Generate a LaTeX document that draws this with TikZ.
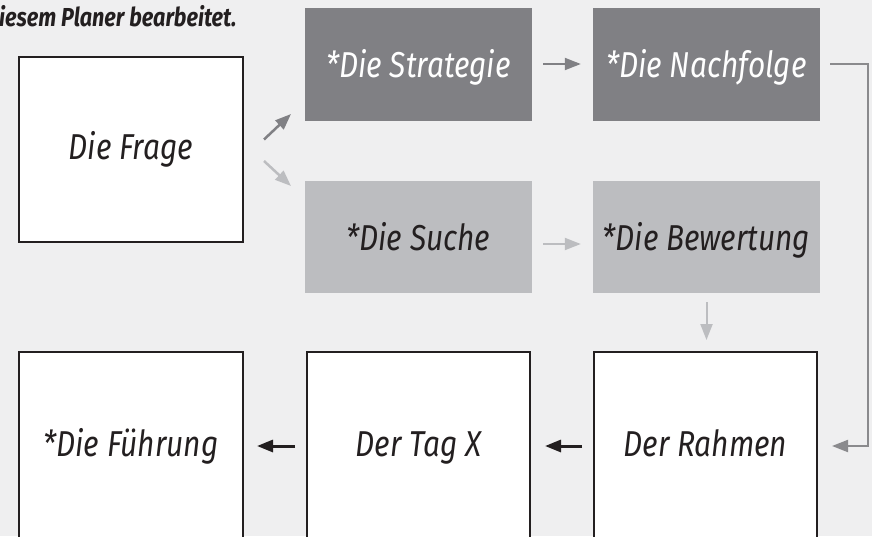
\documentclass[tikz,border=0pt]{standalone}
\usepackage{fontspec}
\newfontfamily\hand[FakeStretch=0.83]{Fira Sans}
\usetikzlibrary{arrows.meta,calc}
\definecolor{bg}{HTML}{EFEFF0}
\definecolor{dgray}{HTML}{808084}
\definecolor{lgray}{HTML}{BCBDC0}
\definecolor{mgray}{HTML}{8A8A8D}
\definecolor{ink}{HTML}{231F20}
\begin{document}
\begin{tikzpicture}[x=1pt,y=-1pt,
  box/.style={inner sep=0pt, font=\hand\itshape\fontsize{36}{40}\selectfont},
  wbox/.style={box, draw=ink, line width=2pt, fill=white, text=ink, text height=26pt, text depth=6pt},
  dbox/.style={box, fill=dgray, text=white, minimum width=227pt, minimum height=113pt, text height=32pt, text depth=6pt},
  lbox/.style={box, fill=lgray, text=ink, minimum width=227pt, minimum height=112.5pt, text height=32pt, text depth=6pt},
  arr/.style={-{Triangle[length=16pt,width=12pt]}, line width=2pt}
]
\fill[bg] (0,0) rectangle (872,536);
\useasboundingbox (0,0) rectangle (872,536);

\node[anchor=base west, inner sep=0pt, text=ink,
      font=\hand\bfseries\itshape\fontsize{26}{29}\selectfont] (title) at (-1,26) {iesem Planer bearbeitet.};

\node[wbox, minimum width=224pt, minimum height=185pt] (frage) at (131,149.5) {Die Frage};
\node[dbox] (strategie) at (418.5,64) {*Die Strategie};
\node[dbox] (nachfolge) at (706.5,64) {*Die Nachfolge};
\node[lbox] (suche) at (418.5,237) {*Die Suche};
\node[lbox] (bewertung) at (706.5,237) {*Die Bewertung};
\node[wbox, minimum width=224pt, minimum height=188pt] (fuehrung) at (131,446) {*Die Führung};
\node[wbox, minimum width=223pt, minimum height=188pt] (tagx) at (418.5,446) {Der Tag X};
\node[wbox, minimum width=223pt, minimum height=188pt] (rahmen) at (705.5,446) {Der Rahmen};

% arrows from Die Frage
\draw[arr, dgray, line width=2.5pt] ([xshift=20pt,yshift=10pt]frage.east) -- ([xshift=47pt,yshift=35.5pt]frage.east);
\draw[arr, lgray, line width=2.5pt] ([xshift=20pt,yshift=-11.5pt]frage.east) -- ([xshift=47pt,yshift=-36.5pt]frage.east);

% top row
\draw[arr, dgray, shorten <=11pt, shorten >=12pt] (strategie.east) -- (nachfolge.west);
% middle row
\draw[arr, lgray, shorten <=11pt, shorten >=12pt] ([yshift=-7pt]suche.east) -- ([yshift=-7pt]bewertung.west);
\draw[arr, lgray, shorten <=9pt, shorten >=11pt] (bewertung.south) -- (bewertung.south |- rahmen.north);

% bracket
\coordinate (rail) at (868,0);
\draw[arr, mgray]
  ([xshift=10pt]nachfolge.east) -- (nachfolge.east -| rail) -- (rail |- rahmen.east) -- ([xshift=14pt]rahmen.east);

% bottom row
\draw[arr, ink, line width=3pt, shorten <=11pt, shorten >=14pt] (rahmen.west) -- (tagx.east);
\draw[arr, ink, line width=3pt, shorten <=11pt, shorten >=13pt] (tagx.west) -- (fuehrung.east);
\end{tikzpicture}
\end{document}
